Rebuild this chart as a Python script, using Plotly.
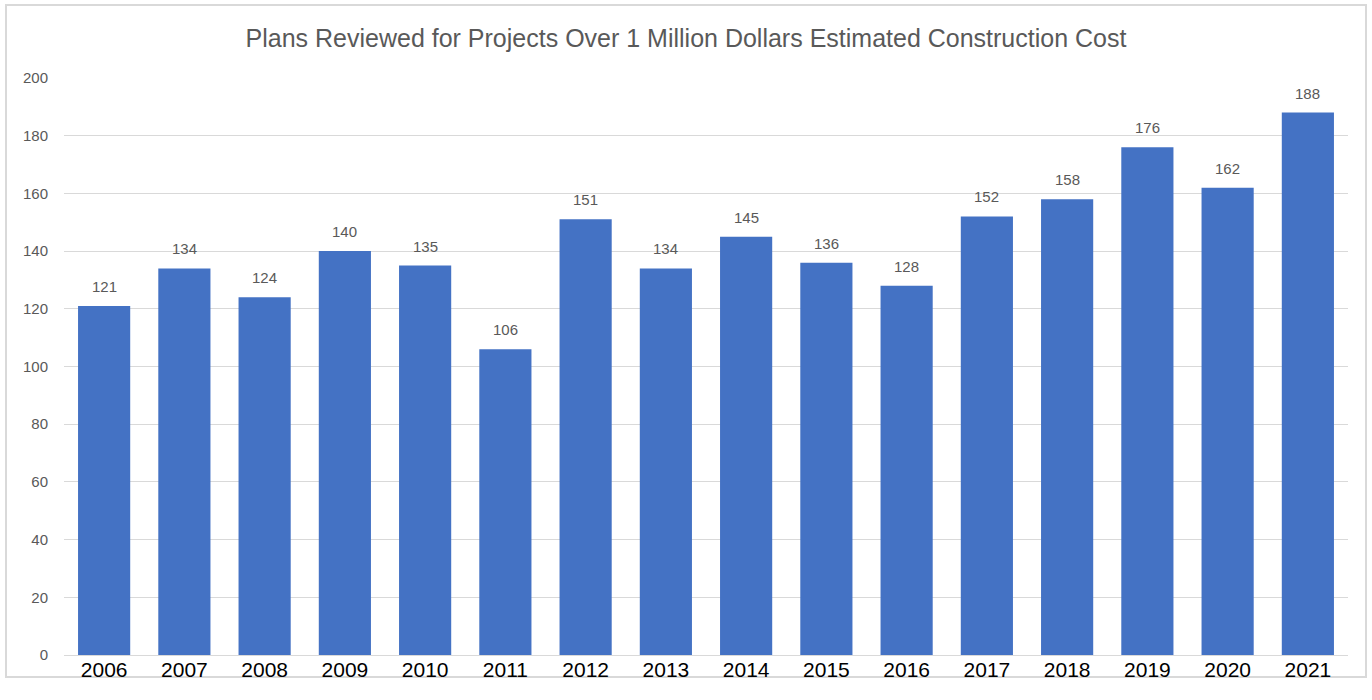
import plotly.graph_objects as go

years = ["2006", "2007", "2008", "2009", "2010", "2011", "2012", "2013",
         "2014", "2015", "2016", "2017", "2018", "2019", "2020", "2021"]
plans = [121, 134, 124, 140, 135, 106, 151, 134, 145, 136, 128, 152, 158, 176, 162, 188]
title_text = "Plans Reviewed for Projects Over 1 Million Dollars Estimated Construction Cost"

L, R, T, B = 64, 24, 78, 45
W, H = 1372, 700
pw, ph = W - L - R, H - T - B

fig = go.Figure(go.Bar(
    x=years, y=plans,
    marker=dict(color="#4472C4", line=dict(width=0)),
    hoverinfo="x+y",
))

# category axis: annotation x positions are category serial numbers
annotations = [dict(x=i, y=v, xref="x", yref="y", text=str(v), showarrow=False,
                    yanchor="bottom", yshift=9,
                    font=dict(size=15, color="#595959", family="Liberation Sans"))
               for i, v in enumerate(plans)]

fig.update_layout(
    width=W, height=H,
    margin=dict(l=L, r=R, t=T, b=B),
    paper_bgcolor="white", plot_bgcolor="white",
    bargap=0.35,
    font=dict(family="Liberation Sans", color="#595959"),
    title=dict(text=title_text, x=0.5, xanchor="center", y=1 - 38 / H, yanchor="middle",
               font=dict(size=25, color="#595959", family="Liberation Sans")),
    xaxis=dict(type="category", range=[-0.5, len(years) - 0.5],
               tickfont=dict(size=21, color="#000000"), showgrid=False,
               showline=False, ticks="", zeroline=False, ticklabelstandoff=0),
    yaxis=dict(range=[0, 200], dtick=20, showgrid=True, gridcolor="#D9D9D9", gridwidth=1,
               tickfont=dict(size=15, color="#595959"), zeroline=True,
               zerolinecolor="#D9D9D9", zerolinewidth=1, ticks="", ticklabelstandoff=15),
    annotations=annotations,
    shapes=[dict(type="rect", xref="paper", yref="paper",
                 x0=(6 - L) / pw, x1=(1366 - L) / pw,
                 y0=(H - B - 677) / ph, y1=(H - B - 5) / ph,
                 line=dict(color="#D9D9D9", width=2), fillcolor="rgba(0,0,0,0)", layer="below")],
)

fig.write_html("out.html", config={"displayModeBar": False},
               post_script="document.body.style.margin='0px';")
